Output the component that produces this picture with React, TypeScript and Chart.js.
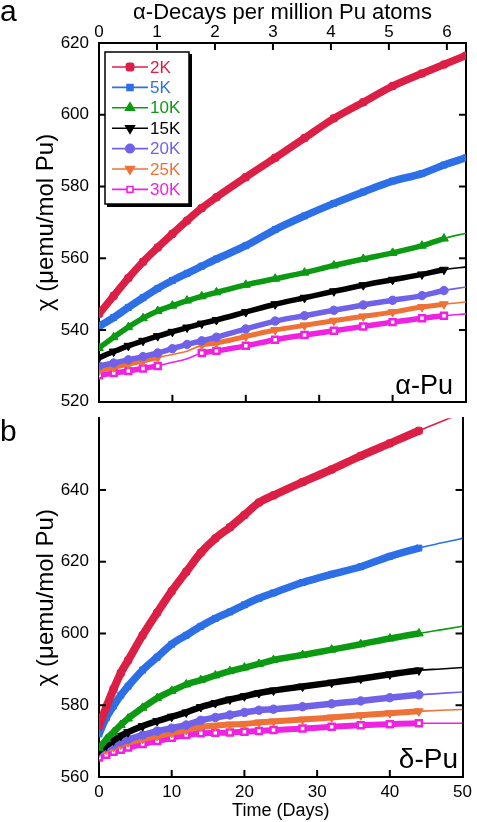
import React, { useEffect, useRef } from 'react';
import { Chart, registerables } from 'chart.js';
import { drawPoint } from 'chart.js/helpers';

Chart.register(...registerables);

const FONT = "'Liberation Sans', Arial, Helvetica, sans-serif";

// ---------- data ----------
const seriesLabels = ['2K', '5K', '10K', '15K', '20K', '25K', '30K'];
const seriesColors = ['#DC1F45', '#2D6FE6', '#0B9A12', '#000000', '#7062E8', '#EE7236', '#EE22E0'];
const pointStyles = ['rectRounded', 'rect', 'triangle', 'triangle', 'circle', 'triangle', 'rect'];
const pointRotations = [0, 0, 0, 180, 0, 180, 0];

// alpha-Pu panel (days)
const daysA = [0, 2, 4, 6, 8, 10, 12, 14, 16, 20, 24, 28, 32, 36, 40, 44, 47, 50];
const chi2K_a = [544.5, 549.5, 554.5, 559, 563, 566.8, 570.5, 574, 577, 582.6, 588, 593.5, 599, 603.5, 608, 611.5, 614, 616.5];
const chi5K_a = [541, 543.5, 546.3, 549, 551.6, 553.8, 555.8, 557.8, 559.8, 563.5, 568, 571.8, 575.3, 578.5, 581.5, 583.6, 586, 588];
const chi10K_a = [535, 538, 540.8, 543.3, 545.3, 546.8, 548.2, 549.4, 550.5, 552.6, 554.3, 556, 558, 559.8, 561.5, 563.5, 565.5, 567];
const chi15K_a = [532.3, 534, 535.6, 537, 538.3, 539.5, 540.7, 541.8, 542.8, 545, 547.2, 549, 550.8, 552.5, 554, 555.5, 556.8, 557.6];
const chi20K_a = [530, 530.8, 531.7, 532.6, 533.6, 534.8, 536, 537, 538, 540.3, 542.5, 544, 545.5, 547, 548.3, 549.6, 551, 552];
const chi25K_a = [528.7, 529.6, 530.5, 531.4, 532.3, 533.2, 534.1, 535.8, 536.4, 538.2, 540, 541.3, 542.6, 543.8, 545, 546.4, 547.2, 547.8];
const chi30K_a = [527.4, 528, 528.6, 529.3, 530, 531, 532, 533.6, 534.2, 535.6, 537.3, 538.6, 539.8, 541, 542.2, 543.3, 544, 544.5];
const measuredUntilA = [50, 50, 47, 47, 47, 47, 47];
const gapsA: (number[] | null)[] = [null, null, null, null, null, [8.5, 13.9], [8.5, 13.9]];

// delta-Pu panel (days)
const daysB = [0, 1, 2, 3, 4, 6, 8, 10, 12, 14, 16, 18, 20, 22, 24, 28, 32, 36, 40, 44, 47, 50];
const chi2K_b = [574.2, 579.5, 584.5, 589, 592.5, 599.5, 605.8, 611.8, 617.2, 622.5, 626.5, 629.6, 633, 636.5, 638.5, 642.2, 645.7, 649.5, 653, 656.5, 659, 661.5];
const chi5K_b = [572, 576.5, 579.8, 582.8, 585.3, 589.8, 593.4, 597, 599.5, 602, 604.2, 606, 608, 609.8, 611.3, 614.2, 616.5, 618.6, 621.5, 623.8, 625.2, 626.5];
const chi10K_b = [568, 570.5, 572.5, 574.5, 576.3, 579.3, 582, 584, 585.8, 587, 588.3, 589.5, 590.5, 591.5, 592.6, 594, 595.5, 597, 598.6, 600, 601, 602];
const chi15K_b = [567.4, 568.8, 570.2, 571.5, 572.5, 574.2, 575.6, 576.8, 578, 579.5, 580.6, 581.6, 582.5, 583.4, 584.1, 585.2, 586.3, 587.4, 588.6, 589.7, 590.1, 590.5];
const chi20K_b = [567.4, 568.3, 569, 569.8, 570.5, 571.7, 572.8, 573.6, 574.5, 575.8, 576.6, 577.3, 578, 578.6, 578.9, 579.6, 580.4, 581.2, 582.1, 582.9, 583.3, 583.7];
const chi25K_b = [566.8, 567.6, 568.3, 569, 569.6, 570.6, 571.4, 572.3, 573.1, 574, 574.3, 574.6, 574.8, 575.2, 575.5, 576, 576.6, 577.2, 577.8, 578.3, 578.6, 578.8];
const chi30K_b = [565.4, 566.2, 567, 567.6, 568.2, 569.2, 570, 570.9, 571.7, 572.2, 572.3, 572.4, 572.6, 572.8, 573.1, 573.5, 574, 574.4, 574.7, 575, 575, 575];
const measuredUntilB = [44, 44, 44, 44, 44, 44, 44];

const decaysAt50Days = 6.33;
const decayTicks = [0, 1, 2, 3, 4, 5, 6];

// ---------- helpers ----------
const bandWidthsA = [7.5, 7.5, 5.5, 5.5, 5.5, 5, 5.5];
const bandWidthsB = [8, 7.5, 6.5, 6.5, 6.5, 6, 6];
const markerRadii = [4.2, 4.2, 5, 5, 4.2, 5, 4.2];

function buildDatasets(days: number[], series: number[][], until: number[], gaps: (number[] | null)[], widths: number[]) {
  return series.map((vals, i) => {
    const thin = (x: number) =>
      x > until[i] + 1e-9 || (gaps[i] ? x > gaps[i]![0] && x < gaps[i]![1] : false);
    const hollow = i === 6;
    return {
      label: seriesLabels[i],
      data: days.map((d, j) => ({ x: d, y: vals[j] })),
      borderColor: seriesColors[i],
      backgroundColor: seriesColors[i],
      borderWidth: widths[i],
      pointStyle: pointStyles[i],
      rotation: pointRotations[i],
      pointRadius: (ctx: any) => (ctx.raw && thin(ctx.raw.x) ? 0 : markerRadii[i]),
      pointBackgroundColor: hollow ? '#ffffff' : seriesColors[i],
      pointBorderColor: seriesColors[i],
      pointBorderWidth: hollow ? 2.5 : 1,
      cubicInterpolationMode: 'monotone',
      clip: 0,
      segment: {
        borderWidth: (ctx: any) => (thin(ctx.p0.parsed.x) || thin(ctx.p1.parsed.x) ? 1.6 : widths[i]),
      },
    };
  });
}

const inTicksPlugin = {
  id: 'inTicks',
  afterDraw(chart: any, _args: any, opts: any) {
    const { ctx, chartArea: ca } = chart;
    ctx.save();
    ctx.strokeStyle = '#000';
    ctx.lineWidth = 2;
    const L = 7;
    for (const id of opts.scales || []) {
      const s = chart.scales[id];
      if (!s) continue;
      for (const t of s.ticks) {
        const p = s.getPixelForValue(t.value);
        ctx.beginPath();
        if (s.isHorizontal()) {
          if (p <= ca.left + 2 || p >= ca.right - 2) continue;
          if (s.position === 'top') { ctx.moveTo(p, ca.top); ctx.lineTo(p, ca.top + L); }
          else { ctx.moveTo(p, ca.bottom); ctx.lineTo(p, ca.bottom - L); }
        } else {
          if (p <= ca.top + 2 || p >= ca.bottom - 2) continue;
          if (s.position === 'left') { ctx.moveTo(ca.left, p); ctx.lineTo(ca.left + L, p); }
          else { ctx.moveTo(ca.right, p); ctx.lineTo(ca.right - L, p); }
        }
        ctx.stroke();
      }
    }
    ctx.restore();
  },
};

const textPlugin = {
  id: 'panelText',
  afterDraw(chart: any, _args: any, opts: any) {
    const { ctx } = chart;
    ctx.save();
    ctx.fillStyle = '#000';
    ctx.textBaseline = 'alphabetic';
    for (const it of opts.items || []) {
      ctx.font = `${it.size}px ${FONT}`;
      ctx.textAlign = it.align;
      ctx.fillText(it.text, it.x, it.y);
    }
    ctx.restore();
  },
};

const boxLegendPlugin = {
  id: 'boxLegend',
  afterDraw(chart: any, _args: any, opts: any) {
    if (!opts.show) return;
    const { ctx, chartArea: ca } = chart;
    const left = ca.left + 6;
    const top = ca.top + 9;
    const w = 84;
    const h = 152;
    ctx.save();
    ctx.fillStyle = '#000';
    ctx.fillRect(left + 2, top + 2, w + 1, h + 1);
    ctx.fillStyle = '#fff';
    ctx.fillRect(left, top, w, h);
    ctx.strokeStyle = '#000';
    ctx.lineWidth = 1.5;
    ctx.strokeRect(left, top, w, h);
    ctx.font = `17px ${FONT}`;
    ctx.textAlign = 'left';
    ctx.textBaseline = 'middle';
    seriesLabels.forEach((lab, i) => {
      const y = top + 15 + i * 20.4;
      const c = seriesColors[i];
      ctx.strokeStyle = c;
      ctx.lineWidth = 1.6;
      ctx.beginPath();
      ctx.moveTo(left + 7, y);
      ctx.lineTo(left + 43, y);
      ctx.stroke();
      ctx.fillStyle = i === 6 ? '#fff' : c;
      ctx.strokeStyle = c;
      drawPoint(ctx, {
        pointStyle: pointStyles[i] as any,
        rotation: pointRotations[i],
        radius: markerRadii[i],
        borderWidth: i === 6 ? 2.5 : 1,
      } as any, left + 25, y);
      ctx.fillStyle = c;
      ctx.fillText(lab, left + 45, y + 1);
    });
    ctx.restore();
  },
};

const tickFont = { size: 17, family: FONT };

function yAxis(min: number, max: number, hideTop: boolean) {
  return {
    type: 'linear',
    position: 'left',
    min, max,
    ticks: {
      stepSize: 20,
      font: tickFont,
      color: '#000',
      padding: 10,
      callback: (v: any) => (hideTop && v === max ? null : String(v)),
    },
    grid: { display: false, drawTicks: false },
    border: { display: true, color: '#000', width: 2 },
    title: {
      display: true,
      text: 'χ (μemu/mol Pu)',
      font: { size: 24, family: FONT },
      color: '#000',
      padding: { top: 32, bottom: 0 },
    },
    afterFit: (s: any) => { s.width = 99; },
  };
}

function yRight(min: number, max: number) {
  return {
    type: 'linear',
    position: 'right',
    min, max,
    ticks: { stepSize: 20, display: false },
    grid: { display: false, drawTicks: false },
    border: { display: true, color: '#000', width: 2 },
    afterFit: (s: any) => { s.width = 11; },
  };
}

export default function App() {
  const refA = useRef<HTMLCanvasElement>(null);
  const refB = useRef<HTMLCanvasElement>(null);

  useEffect(() => {
    Chart.defaults.font.family = FONT;
    Chart.defaults.color = '#000';

    const chartA = new Chart(refA.current!, {
      type: 'line',
      data: {
        datasets: buildDatasets(daysA, [chi2K_a, chi5K_a, chi10K_a, chi15K_a, chi20K_a, chi25K_a, chi30K_a], measuredUntilA, gapsA, bandWidthsA) as any,
      },
      options: {
        responsive: false,
        animation: false,
        layout: { padding: 0 },
        plugins: {
          legend: { display: false },
          tooltip: { enabled: false },
          inTicks: { scales: ['x', 'xTop', 'y', 'yR'] },
          boxLegend: { show: true },
          panelText: {
            items: [
              { text: 'a', x: 0, y: 21, size: 30, align: 'left' },
              { text: 'α-Pu', x: 453, y: 394, size: 27, align: 'right' },
            ],
          },
        } as any,
        scales: {
          x: {
            type: 'linear',
            position: 'bottom',
            min: 0, max: 50,
            ticks: { stepSize: 10, display: false },
            grid: { display: false, drawTicks: false },
            border: { display: true, color: '#000', width: 2 },
            afterFit: (s: any) => { s.height = 12; },
          },
          xTop: {
            type: 'linear',
            position: 'top',
            min: 0, max: decaysAt50Days,
            afterBuildTicks: (s: any) => { s.ticks = decayTicks.map((v) => ({ value: v })); },
            ticks: { font: tickFont, color: '#000', padding: 0 },
            grid: { display: false, drawTicks: false },
            border: { display: true, color: '#000', width: 2 },
            title: {
              display: true,
              text: 'α-Decays per million Pu atoms',
              font: { size: 22, family: FONT },
              color: '#000',
              padding: { top: 0, bottom: 0 },
            },
            afterFit: (s: any) => { s.height = 43; },
          },
          y: yAxis(520, 620, false),
          yR: yRight(520, 620),
        } as any,
      },
      plugins: [inTicksPlugin, boxLegendPlugin, textPlugin],
    });

    const chartB = new Chart(refB.current!, {
      type: 'line',
      data: {
        datasets: buildDatasets(daysB, [chi2K_b, chi5K_b, chi10K_b, chi15K_b, chi20K_b, chi25K_b, chi30K_b], measuredUntilB, [null, null, null, null, null, null, null], bandWidthsB) as any,
      },
      options: {
        responsive: false,
        animation: false,
        layout: { padding: { top: 12, left: 0, right: 0, bottom: 0 } },
        plugins: {
          legend: { display: false },
          tooltip: { enabled: false },
          inTicks: { scales: ['x', 'y', 'yR'] },
          boxLegend: { show: false },
          panelText: {
            items: [
              { text: 'b', x: 0, y: 43, size: 30, align: 'left' },
              { text: 'δ-Pu', x: 458, y: 370, size: 28, align: 'right' },
            ],
          },
        } as any,
        scales: {
          x: {
            type: 'linear',
            position: 'bottom',
            min: 0, max: 50,
            ticks: { stepSize: 10, font: tickFont, color: '#000', padding: 5 },
            grid: { display: false, drawTicks: false },
            border: { display: true, color: '#000', width: 2 },
            title: {
              display: true,
              text: 'Time (Days)',
              font: { size: 18, family: FONT },
              color: '#000',
              padding: { top: 0, bottom: 0 },
            },
            afterFit: (s: any) => { s.height = 45; },
          },
          y: yAxis(560, 660, true),
          yR: yRight(560, 660),
        } as any,
      },
      plugins: [inTicksPlugin, boxLegendPlugin, textPlugin],
    });

    return () => {
      chartA.destroy();
      chartB.destroy();
    };
  }, []);

  return (
    <div style={{ position: 'absolute', left: 0, top: 0, width: 477, height: 822, background: '#fff' }}>
      <canvas ref={refA} width={477} height={422} style={{ position: 'absolute', left: 0, top: 0, width: 477, height: 422 }} />
      <canvas ref={refB} width={477} height={424} style={{ position: 'absolute', left: 0, top: 398, width: 477, height: 424 }} />
    </div>
  );
}
